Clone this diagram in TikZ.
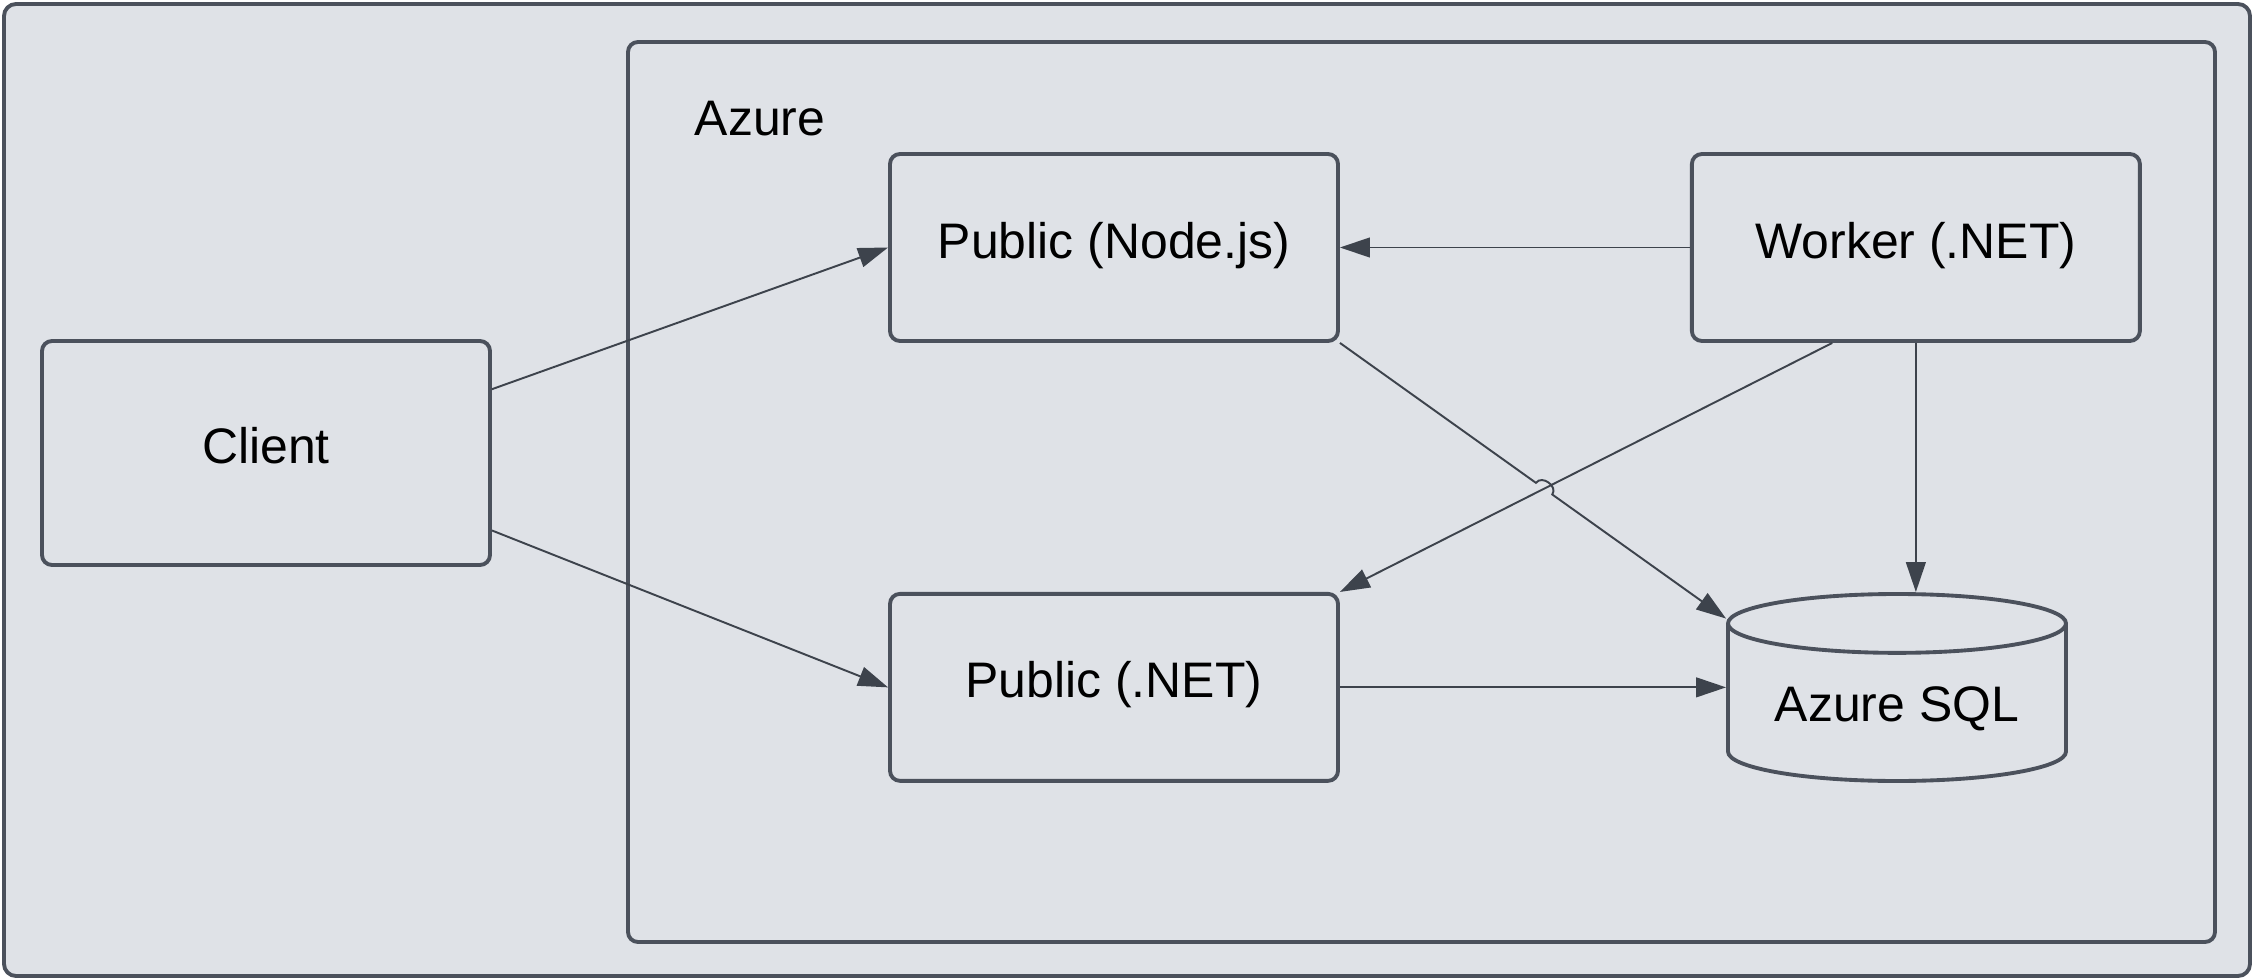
\documentclass[tikz,border=0pt]{standalone}
\usepackage{fontspec}
\setmainfont{Liberation Sans}
\usepackage{xcolor}
\usetikzlibrary{positioning,arrows.meta,calc,shapes.geometric,intersections}

\definecolor{paneBg}{HTML}{DFE2E7}
\definecolor{paneLine}{HTML}{4B515C}
\definecolor{wireLine}{HTML}{3D434C}

\tikzset{
  pane/.style={draw=paneLine, fill=paneBg, line width=1.1pt, rounded corners=0.1cm},
  svc/.style={pane, minimum width=4.48cm, minimum height=1.87cm, text height=0.38cm, text depth=0.17cm,
    font=\fontsize{14.2}{16}\selectfont},
  db/.style={cylinder, shape border rotate=90, aspect=0.22, draw=paneLine, fill=paneBg,
    line width=1.1pt, minimum width=3.38cm, minimum height=1.87cm, font=\fontsize{14.2}{16}\selectfont},
  wire/.style={-{Triangle[length=8.5pt,width=5.6pt]}, draw=wireLine, line width=0.55pt}
}

\begin{document}
\begin{tikzpicture}
	\useasboundingbox (0,0) rectangle (22.54,-9.79);
	\node[pane, rounded corners=0.12cm, minimum width=22.46cm, minimum height=9.72cm] (frame) at (11.27,-4.90) {};
	\node[pane, minimum width=15.87cm, minimum height=9.00cm] (azure) at (14.215,-4.92) {};
	\node[font=\fontsize{14.2}{16}\selectfont] (azurelbl) at (7.60,-1.19) {Azure};

	\node[svc, minimum height=2.24cm] (client) at (2.66,-4.53) {Client};
	\node[svc] (nodejs) at (11.14,-2.475) {Public (Node.js)};
	\node[svc, right=3.50cm of nodejs] (worker) {Worker (.NET)};
	\node[svc, below=2.49cm of nodejs] (dotnet) {Public (.NET)};
	\node[db, anchor=shape center] (sql) at (18.97,-6.875) {\raisebox{-0.22cm}{Azure SQL}};

	\coordinate (sqltop) at ($(sql.west)+(0,0.90)$);

	\draw[wire] ($(client.north east)!0.22!(client.south east)$) -- (nodejs.west);
	\draw[wire] ($(client.north east)!0.84!(client.south east)$) -- (dotnet.west);
	\draw[wire] (worker.west) -- (nodejs.east);
	\draw[wire, name path=workernet] ($(worker.south west)!0.315!(worker.south east)$) -- (dotnet.north east);
	\draw[wire] (worker.south) -- (worker.south |- sql.north);
	\draw[wire] (dotnet.east) -- (sql.west |- dotnet.east);

	% hop over the crossing line
	\path[name path=nodesql] (nodejs.south east) -- (sqltop);
	\path[name intersections={of=nodesql and workernet, by=hop}];
	\draw[wire] (nodejs.south east) -- ($(hop)!0.1cm!(nodejs.south east)$)
		to[bend left=90, looseness=1.3] ($(hop)!0.1cm!(sqltop)$) -- (sqltop);
\end{tikzpicture}
\end{document}
